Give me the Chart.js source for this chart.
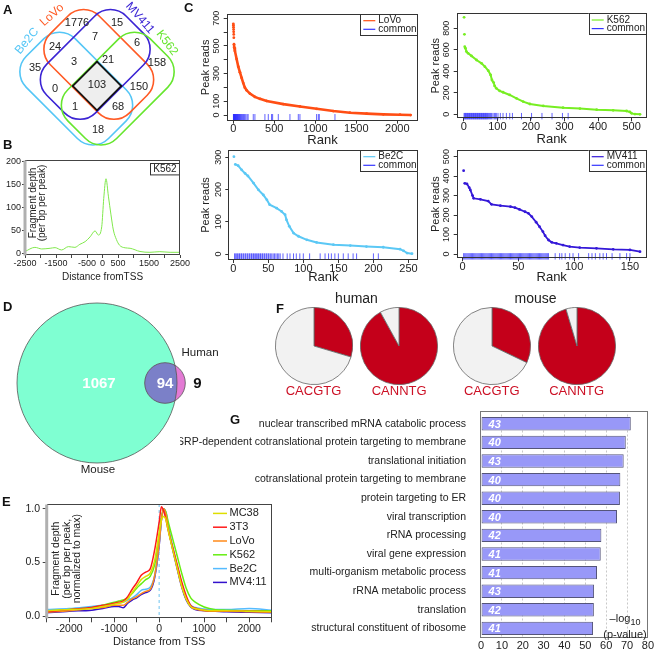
<!DOCTYPE html>
<html>
<head>
<meta charset="utf-8">
<script src="https://cdn.jsdelivr.net/npm/chart.js@4.4.1/dist/chart.umd.min.js"></script>
<style>
  body { margin: 0; background: #fff; }
  #fig { position: relative; width: 657px; height: 652px; overflow: hidden; font-family: "Liberation Sans", Arial, sans-serif; color: #222; }
  #fig canvas { position: absolute; }
  .tag { position: absolute; font-weight: bold; font-size: 13px; color: #111; }
  .txt { position: absolute; white-space: nowrap; text-align: center; }
  .motif { color: #cc1025; font-size: 13px; line-height: 15px; width: 80px; top: 383px; }
  .species { font-size: 14px; line-height: 16px; width: 80px; top: 290px; }
</style>
</head>
<body>
<div id="fig">
  <canvas id="vennA" width="200" height="150" style="left:0;top:0"></canvas>
  <canvas id="k562Tss" width="200" height="133" style="left:0;top:150px"></canvas>
  <canvas id="rankLoVo" width="230" height="148" style="left:200px;top:0"></canvas>
  <canvas id="rankK562" width="227" height="147" style="left:430px;top:0"></canvas>
  <canvas id="rankBe2C" width="230" height="140" style="left:200px;top:145px"></canvas>
  <canvas id="rankMV411" width="227" height="140" style="left:430px;top:145px"></canvas>
  <canvas id="vennD" width="230" height="185" style="left:0;top:295px"></canvas>
  <canvas id="tssProfiles" width="280" height="154" style="left:0;top:495px"></canvas>
  <canvas id="pieHumanE" width="78" height="78" style="left:274.5px;top:307px"></canvas>
  <canvas id="pieHumanN" width="78" height="78" style="left:360.2px;top:307px"></canvas>
  <canvas id="pieMouseE" width="78" height="78" style="left:452.8px;top:307px"></canvas>
  <canvas id="pieMouseN" width="78" height="78" style="left:537.7px;top:307px"></canvas>
  <canvas id="goBars" width="477" height="252" style="left:180px;top:400px"></canvas>

  <div class="tag" style="left:3px;top:2px">A</div>
  <div class="tag" style="left:3px;top:137px">B</div>
  <div class="tag" style="left:184px;top:0">C</div>
  <div class="tag" style="left:3px;top:299px">D</div>
  <div class="tag" style="left:2px;top:494px">E</div>
  <div class="tag" style="left:276px;top:301px">F</div>
  <div class="tag" style="left:230px;top:412px">G</div>

  <div class="txt species" style="left:316.5px">human</div>
  <div class="txt species" style="left:495.5px">mouse</div>
  <div class="txt motif" style="left:273.5px">CACGTG</div>
  <div class="txt motif" style="left:359.2px">CANNTG</div>
  <div class="txt motif" style="left:451.8px">CACGTG</div>
  <div class="txt motif" style="left:536.7px">CANNTG</div>
  <div class="txt" style="left:600px;top:612px;width:50px;font-size:11px;line-height:12px">–log<sub style="font-size:9px">10</sub><br>(p-value)</div>
</div>

<script>
// ---- A: peak overlap of the four cell lines ----
const vennSets = ['Be2C', 'LoVo', 'MV411', 'K562'];
const vennCounts = [35, 24, 1776, 7, 15, 6, 158, 3, 21, 0, 103, 150, 1, 68, 18];

// ---- B: K562 fragment depth around the TSS ----
const tssDist = [-2500, -2180, -1960, -1690, -1530, -1320, -1100, -890, -730, -560, -400, -240, -135, -25, 40, 113, 190, 274, 350, 450, 545, 730, 890, 1210, 1530, 1850, 2180, 2500];
const k562Depth = [4, 13, 9.5, 11, 12.4, 7.3, 14.6, 13, 19.7, 25.5, 36, 49, 40, 58, 120, 163, 125, 84, 51, 30, 18, 12, 11, 4, 2.2, 3.6, 2.2, 2.2];
const bXTicks = [-2500, -2000, -1500, -1000, -500, 0, 500, 1000, 1500, 2000, 2500];
const bTickLabels = [-2500, -1500, -500, 0, 500, 1500, 2500];
const bYTicks = [0, 50, 100, 150, 200];

// ---- C: peak reads by rank, with the common peaks as a rug ----
const lovoRank = [1, 2, 3, 4, 5, 6, 7, 9, 12, 20, 41, 61, 81, 102, 122, 142, 163, 203, 264, 325, 407, 610, 813, 1016, 1220, 1423, 1626, 1829, 2033, 2163];
const lovoReads = [660, 650, 636, 619, 602, 583, 560, 512, 488, 464, 405, 350, 310, 269, 231, 198, 179, 155, 131, 117, 102, 79, 62, 45, 29, 17, 10, 5, 2.4, 0];
const lovoCommon = [2, 4, 6, 9, 11, 14, 17, 20, 23, 27, 30, 34, 38, 42, 47, 52, 57, 63, 69, 75, 82, 90, 98, 107, 116, 126, 138, 152, 168, 181, 244, 264, 386, 427, 467, 480, 549, 691, 793, 813, 1016, 1037, 1049, 1240];
const lovoXTicks = [0, 500, 1000, 1500, 2000];
const lovoYTicks = [0, 100, 200, 300, 400, 500, 600, 700];

const k562Rank = [1, 2, 3, 5, 8, 13, 23, 38, 53, 63, 73, 80, 84, 89, 92, 97, 107, 117, 137, 157, 177, 197, 237, 296, 346, 396, 445, 485, 495, 500, 510, 525];
const k562Reads = [902, 744, 629, 614, 583, 567, 543, 505, 474, 443, 406, 366, 319, 295, 264, 242, 217, 205, 180, 149, 118, 96, 78, 62, 53, 43, 37, 31, 22, 9, 2, 0];
const k562Common = [1, 3, 5, 7, 9, 11, 13, 15, 17, 19, 21, 23, 25, 27, 29, 31, 33, 35, 37, 39, 41, 43, 45, 47, 49, 51, 53, 55, 57, 59, 61, 63, 65, 67, 69, 71, 74, 77, 80, 83, 87, 91, 94, 97, 102, 109, 117, 127, 137, 145, 172, 202, 233, 263, 294, 311];
const k562XTicks = [0, 100, 200, 300, 400, 500];
const k562YTicks = [0, 200, 400, 600, 800];

const be2cRank = [1, 3, 7, 12, 17, 21, 29, 36, 43, 48, 52, 62, 69, 74, 76, 80, 86, 93, 105, 119, 143, 167, 190, 214, 238, 243, 248, 255];
const be2cReads = [302, 278, 274, 261, 250, 242, 220, 199, 183, 168, 153, 142, 132, 122, 106, 86, 65, 55, 44, 36, 29, 26, 23, 21, 15, 10, 3, 1];
const be2cCommon = [2, 3, 5, 6, 8, 9, 11, 12, 14, 15, 17, 18, 20, 21, 23, 24, 26, 27, 29, 30, 32, 33, 35, 36, 38, 39, 41, 42, 44, 45, 47, 48, 50, 51, 53, 55, 57, 59, 61, 63, 65, 67, 71, 77, 81, 86, 90, 95, 100, 109, 124, 131, 136, 140, 145, 150, 157, 164, 171, 176, 200, 207];
const be2cXTicks = [0, 50, 100, 150, 200, 250];
const be2cYTicks = [0, 100, 200, 300];

const mv411Rank = [1, 2, 4, 6, 7, 9, 10, 16, 23, 26, 34, 43, 47, 51, 56, 59, 62, 66, 69, 72, 74, 77, 80, 84, 90, 96, 105, 120, 135, 150, 159];
const mv411Reads = [428, 363, 360, 341, 329, 300, 286, 281, 272, 255, 248, 243, 238, 229, 217, 209, 192, 163, 140, 115, 94, 72, 60, 55, 46, 38, 33, 29, 24, 21, 12];
const mv411Common = [1, 2, 3, 4, 5, 6, 7, 8, 9, 10, 11, 12, 13, 14, 15, 16, 17, 18, 19, 20, 21, 22, 23, 24, 25, 26, 27, 28, 29, 30, 31, 32, 33, 34, 35, 36, 37, 38, 39, 40, 41, 42, 43, 44, 45, 46, 47, 48, 49, 50, 51, 52, 53, 54, 55, 56, 57, 58, 59, 60, 61, 62, 63, 64, 65, 66, 67, 68, 69, 70, 71, 72, 73, 74, 75, 76, 77, 83, 87, 89, 92, 96, 99, 104, 113, 116, 119, 123, 126, 129, 134, 141, 147, 150];
const mv411XTicks = [0, 50, 100, 150];
const mv411YTicks = [0, 100, 200, 300, 400, 500];

// ---- D: human / mouse overlap ----
const orthoCounts = [1067, 94, 9];

// ---- E: normalised TSS profiles ----
const profDist = [-2500, -2000, -1500, -1250, -1000, -900, -800, -700, -600, -500, -400, -300, -200, -100, 0, 50, 100, 150, 200, 300, 400, 500, 600, 700, 800, 1000, 1250, 1500, 2000, 2500];
const mc38Prof = [0.05, 0.06, 0.07, 0.09, 0.11, 0.12, 0.13, 0.16, 0.22, 0.28, 0.34, 0.37, 0.40, 0.52, 0.78, 0.90, 0.93, 0.90, 0.80, 0.62, 0.45, 0.28, 0.16, 0.09, 0.07, 0.055, 0.05, 0.05, 0.045, 0.04];
const t3t3Prof = [0.04, 0.06, 0.08, 0.10, 0.12, 0.13, 0.14, 0.18, 0.25, 0.31, 0.38, 0.41, 0.44, 0.62, 0.88, 1.02, 0.98, 0.90, 0.80, 0.64, 0.48, 0.32, 0.19, 0.10, 0.075, 0.055, 0.05, 0.05, 0.045, 0.04];
const lovoProf = [0.035, 0.05, 0.07, 0.08, 0.10, 0.10, 0.10, 0.13, 0.16, 0.18, 0.21, 0.23, 0.25, 0.38, 0.68, 0.90, 1.00, 0.95, 0.82, 0.63, 0.45, 0.28, 0.16, 0.09, 0.065, 0.05, 0.045, 0.045, 0.04, 0.035];
const k562Prof = [0.05, 0.06, 0.08, 0.10, 0.13, 0.14, 0.15, 0.17, 0.21, 0.26, 0.30, 0.34, 0.37, 0.48, 0.75, 0.92, 1.00, 0.97, 0.88, 0.72, 0.56, 0.40, 0.26, 0.17, 0.13, 0.085, 0.06, 0.055, 0.05, 0.05];
const be2cProf = [0.06, 0.07, 0.09, 0.10, 0.12, 0.12, 0.13, 0.15, 0.17, 0.20, 0.24, 0.25, 0.27, 0.38, 0.68, 0.90, 0.98, 0.97, 0.85, 0.65, 0.47, 0.30, 0.17, 0.10, 0.08, 0.065, 0.06, 0.06, 0.07, 0.055];
const mv411Prof = [0.03, 0.045, 0.055, 0.07, 0.09, 0.09, 0.077, 0.12, 0.15, 0.17, 0.20, 0.22, 0.24, 0.36, 0.66, 0.90, 1.00, 0.96, 0.82, 0.62, 0.44, 0.27, 0.15, 0.085, 0.06, 0.05, 0.045, 0.04, 0.035, 0.03];
const eXTicks = [-2500, -2000, -1500, -1000, -500, 0, 500, 1000, 1500, 2000, 2500];
const eTickLabels = [-2000, -1000, 0, 1000, 2000];
const eYTicks = [0, 0.5, 1];

// ---- F: share of peaks with the E-box motif (%) ----
const humanCacgtg = [29.6, 70.4];
const humanCanntg = [92, 8];
const mouseCacgtg = [32.1, 67.9];
const mouseCanntg = [95.4, 4.6];

// ---- G: GO enrichment ----
const goTerms = ['nuclear transcribed mRNA catabolic process', 'SRP-dependent cotranslational protein targeting to membrane', 'translational initiation', 'cotranslational protein targeting to membrane', 'protein targeting to ER', 'viral transcription', 'rRNA processing', 'viral gene expression', 'multi-organism metabolic process', 'rRNA metabolic process', 'translation', 'structural constituent of ribosome'];
const goLogP = [71.8, 69.4, 68.4, 66.8, 66.6, 65.2, 57.7, 57.4, 55.6, 54.2, 54.1, 53.7];
const goGenes = [43, 40, 43, 40, 40, 40, 42, 41, 41, 43, 42, 41];
const goTicks = [0, 10, 20, 30, 40, 50, 60, 70, 80];

// layout of the two Venn diagrams (diagram units = px)
const vennCenter = [97, 86];
const vennBoxes = [[-51, 18, -71, 45.3], [-18, 51, -70, 42], [-42, 70, -51, 18], [-45.3, 71, -18, 51]]; // s0,s1,t0,t1 in the 45deg frame
const vennCorner = 22;
const vennColors = ['#55c6f6', '#ff5a24', '#3b24d4', '#66e62e'];
const vennNamePos = [[27, 41, -50], [52, 15, -42], [140, 18, 49], [167, 43, 53]];
const vennSpots = [[35, 68], [55, 47], [77, 23], [95, 37], [117, 23], [137, 43], [157, 63], [74, 62], [108, 60], [55, 89], [97, 85], [139, 87], [75, 107], [118, 107], [98, 130]];

const FONT = '"Liberation Sans", Arial, sans-serif';
const rugColor = 'rgba(45, 45, 255, 0.75)';

Chart.defaults.font.family = FONT;
Chart.defaults.color = '#222';
Chart.defaults.animation = false;
Chart.defaults.responsive = false;
Chart.defaults.events = [];
Chart.defaults.layout.autoPadding = false;
Chart.defaults.plugins.legend.display = false;
Chart.defaults.plugins.tooltip.enabled = false;

const fixedTicks = values => scale => { scale.ticks = values.map(v => ({ value: v })); };

// box round the plot area
const frame = {
    id: 'frame',
    afterDatasetsDraw(chart, args, o) {
        const ctx = chart.ctx, a = chart.chartArea;
        const l = Math.round(a.left) + 0.5, r = Math.round(a.right) - 0.5;
        const t = Math.round(a.top - (o.lift || 0)) + 0.5, b = Math.round(a.bottom) - 0.5;
        ctx.save();
        ctx.strokeStyle = o.color || '#333';
        ctx.lineWidth = 1;
        ctx.strokeRect(l, t, r - l, b - t);
        if (o.leftColor) {
            ctx.strokeStyle = o.leftColor;
            ctx.lineWidth = o.leftWidth;
            ctx.beginPath();
            ctx.moveTo(a.left, t);
            ctx.lineTo(a.left, b + 1);
            ctx.stroke();
        }
        ctx.restore();
    }
};

// R style y tick labels, turned 90 degrees
const rTicks = {
    id: 'rTicks',
    afterDraw(chart, args, o) {
        const ctx = chart.ctx, s = chart.scales.y, skip = o.skip || [];
        ctx.save();
        ctx.font = '9px ' + FONT;
        ctx.fillStyle = '#222';
        ctx.textAlign = 'center';
        ctx.textBaseline = 'middle';
        s.ticks.forEach(t => {
            if (skip.includes(t.value)) return;
            ctx.save();
            ctx.translate(chart.chartArea.left - 10, s.getPixelForValue(t.value));
            ctx.rotate(-Math.PI / 2);
            ctx.fillText(String(t.value), 0, 0);
            ctx.restore();
        });
        ctx.restore();
    }
};

// legend drawn from the datasets' labels and colours
const keyBox = {
    id: 'keyBox',
    afterDraw(chart, args, o) {
        const ctx = chart.ctx, a = chart.chartArea;
        const x0 = o.left !== undefined ? a.left + o.left : a.right - o.right - o.w;
        const y0 = a.top + o.top;
        ctx.save();
        if (o.box) {
            ctx.fillStyle = '#fff';
            ctx.fillRect(x0, y0, o.w, o.h);
            ctx.strokeStyle = '#333';
            ctx.lineWidth = 1;
            ctx.strokeRect(Math.round(x0) + 0.5, Math.round(y0) + 0.5, o.w, o.h);
        }
        ctx.font = o.font + 'px ' + FONT;
        ctx.textBaseline = 'middle';
        chart.data.datasets.filter(d => d.label).forEach((d, i) => {
            const y = y0 + o.y + i * o.dy;
            ctx.strokeStyle = d.borderColor;
            ctx.lineWidth = o.lw;
            ctx.beginPath();
            ctx.moveTo(x0 + o.lx, y);
            ctx.lineTo(x0 + o.lx + o.len, y);
            ctx.stroke();
            ctx.fillStyle = '#222';
            ctx.fillText(d.label, x0 + o.lx + o.len + o.gap, y);
        });
        ctx.restore();
    }
};

// y title sitting inside the plot, dashed TSS line and the sample tag
const sideTitle = {
    id: 'sideTitle',
    beforeDatasetsDraw(chart, args, o) {
        const ctx = chart.ctx, a = chart.chartArea;
        ctx.save();
        if (o.tss !== undefined) {
            const x = chart.scales.x.getPixelForValue(o.tss);
            ctx.strokeStyle = '#9fd8f5';
            ctx.lineWidth = 1.5;
            ctx.setLineDash([3, 3]);
            ctx.beginPath();
            ctx.moveTo(x, a.top);
            ctx.lineTo(x, a.bottom);
            ctx.stroke();
            ctx.setLineDash([]);
        }
        ctx.font = o.size + 'px ' + FONT;
        ctx.fillStyle = '#222';
        ctx.textAlign = 'center';
        ctx.textBaseline = 'middle';
        o.lines.forEach((t, i) => {
            ctx.save();
            ctx.translate(a.left + o.x + i * o.dx, a.top + o.y);
            ctx.rotate(-Math.PI / 2);
            ctx.fillText(t, 0, 0);
            ctx.restore();
        });
        if (o.tag) {
            const x0 = a.right - o.tag.w, y0 = a.top + o.tag.top;
            ctx.strokeStyle = '#333';
            ctx.lineWidth = 1;
            ctx.strokeRect(Math.round(x0) + 0.5, Math.round(y0) + 0.5, o.tag.w - 1, o.tag.h);
            ctx.font = '10px ' + FONT;
            ctx.fillText(o.tag.text, x0 + o.tag.w / 2, y0 + o.tag.h / 2 + 0.5);
        }
        ctx.restore();
    }
};

// rounded bar of the four-way Venn, in the 45 degree frame
function vennPath(ctx, cx, cy, b) {
    const x = b[0], y = b[2], w = b[1] - b[0], h = b[3] - b[2];
    const r = vennCorner;
    ctx.save();
    ctx.translate(cx, cy);
    ctx.rotate(-Math.PI / 4);
    ctx.beginPath();
    ctx.moveTo(x + r, y);
    ctx.arcTo(x + w, y, x + w, y + h, r);
    ctx.arcTo(x + w, y + h, x, y + h, r);
    ctx.arcTo(x, y + h, x, y, r);
    ctx.arcTo(x, y, x + w, y, r);
    ctx.closePath();
    ctx.restore();
}

const venn4 = {
    id: 'venn4',
    beforeDatasetsDraw(chart) {
        const ctx = chart.ctx;
        const cx = chart.scales.x.getPixelForValue(vennCenter[0]);
        const cy = chart.scales.y.getPixelForValue(vennCenter[1]);
        // shared core
        ctx.save();
        vennBoxes.forEach(b => { vennPath(ctx, cx, cy, b); ctx.clip(); });
        ctx.fillStyle = '#eeeeee';
        ctx.fillRect(0, 0, chart.width, chart.height);
        ctx.restore();
        ctx.save();
        ctx.lineWidth = 1.6;
        vennBoxes.forEach((b, i) => {
            vennPath(ctx, cx, cy, b);
            ctx.strokeStyle = vennColors[i];
            ctx.stroke();
        });
        ctx.restore();
        ctx.save();
        vennBoxes.forEach(b => { vennPath(ctx, cx, cy, b); ctx.clip(); });
        ctx.lineWidth = 3.4;
        ctx.strokeStyle = '#111';
        vennBoxes.forEach(b => { vennPath(ctx, cx, cy, b); ctx.stroke(); });
        ctx.restore();
        // set names
        ctx.save();
        ctx.font = '12px ' + FONT;
        ctx.textAlign = 'center';
        ctx.textBaseline = 'middle';
        vennSets.forEach((name, i) => {
            const p = vennNamePos[i];
            ctx.save();
            ctx.translate(chart.scales.x.getPixelForValue(p[0]), chart.scales.y.getPixelForValue(p[1]));
            ctx.rotate(p[2] * Math.PI / 180);
            ctx.fillStyle = vennColors[i];
            ctx.fillText(name, 0, 0);
            ctx.restore();
        });
        ctx.restore();
    },
    afterDatasetsDraw(chart) {
        const ctx = chart.ctx;
        ctx.save();
        ctx.font = '11px ' + FONT;
        ctx.fillStyle = '#222';
        ctx.textAlign = 'center';
        ctx.textBaseline = 'middle';
        chart.getDatasetMeta(0).data.forEach((pt, i) => ctx.fillText(String(vennCounts[i]), pt.x, pt.y));
        ctx.restore();
    }
};

// overlap of the two circles and their counts
const vennPair = {
    id: 'vennPair',
    afterDatasetsDraw(chart) {
        const ctx = chart.ctx;
        const [m, h] = chart.getDatasetMeta(0).data;
        const rm = m.options.radius, rh = h.options.radius;
        ctx.save();
        ctx.beginPath();
        ctx.arc(m.x, m.y, rm, 0, Math.PI * 2);
        ctx.clip();
        ctx.beginPath();
        ctx.arc(h.x, h.y, rh, 0, Math.PI * 2);
        ctx.fillStyle = '#7b80c8';
        ctx.fill();
        ctx.restore();
        ctx.save();
        ctx.strokeStyle = '#555';
        ctx.lineWidth = 0.8;
        [[m, rm], [h, rh]].forEach(([p, r]) => {
            ctx.beginPath();
            ctx.arc(p.x, p.y, r, 0, Math.PI * 2);
            ctx.stroke();
        });
        ctx.textAlign = 'center';
        ctx.textBaseline = 'middle';
        ctx.font = 'bold 15px ' + FONT;
        ctx.fillStyle = '#fff';
        ctx.fillText(String(orthoCounts[0]), m.x + 2, m.y + 1);
        ctx.fillText(String(orthoCounts[1]), h.x, h.y + 1);
        ctx.fillStyle = '#111';
        ctx.fillText(String(orthoCounts[2]), h.x + rh + 12, h.y + 1);
        ctx.font = '11.5px ' + FONT;
        ctx.fillStyle = '#222';
        ctx.fillText('Human', h.x + 35, h.y - 30);
        ctx.fillText('Mouse', m.x + 1, m.y + rm + 7);
        ctx.restore();
    }
};

// gene counts written inside the GO bars
const barNums = {
    id: 'barNums',
    afterDatasetsDraw(chart) {
        const ctx = chart.ctx;
        ctx.save();
        ctx.font = 'italic bold 11px ' + FONT;
        ctx.fillStyle = '#fff';
        ctx.textBaseline = 'middle';
        chart.getDatasetMeta(0).data.forEach((bar, i) => ctx.fillText(String(goGenes[i]), bar.base + 7, bar.y + 1));
        ctx.restore();
    }
};

function renderVennA() {
    new Chart(document.getElementById('vennA'), {
        type: 'scatter',
        data: { datasets: [{ data: vennSpots.map(p => ({ x: p[0], y: p[1] })), pointRadius: 0 }] },
        options: {
            layout: { padding: 0 },
            scales: {
                x: { display: false, min: 0, max: 200 },
                y: { display: false, min: 0, max: 150, reverse: true }
            }
        },
        plugins: [venn4]
    });
}

function renderTssChart(id, cfg) {
    new Chart(document.getElementById(id), {
        type: 'line',
        data: {
            datasets: cfg.series.map(s => ({
                label: s.label,
                data: cfg.dist.map((d, i) => ({ x: d, y: s.data[i] })),
                borderColor: s.color,
                borderWidth: cfg.lw,
                pointRadius: 0,
                cubicInterpolationMode: 'monotone',
                fill: false
            }))
        },
        options: {
            layout: { padding: { top: cfg.top, right: cfg.right, left: 0, bottom: 0 } },
            scales: {
                x: {
                    type: 'linear', min: -2500, max: 2500,
                    afterBuildTicks: fixedTicks(cfg.xTicks),
                    ticks: { autoSkip: false, maxRotation: 0, padding: cfg.xPad, font: { size: cfg.tickSize, lineHeight: 1 },
                             callback: v => cfg.xLabels.includes(v) ? String(v) : '' },
                    grid: { drawOnChartArea: false, tickLength: cfg.tl, color: '#444' },
                    border: { display: false },
                    title: { display: true, text: cfg.xTitle, font: { size: cfg.titleSize }, padding: 0 },
                    afterFit: s => { s.height = cfg.axisH; }
                },
                y: {
                    min: cfg.yMin, max: cfg.yMax,
                    afterBuildTicks: fixedTicks(cfg.yTicks),
                    ticks: { padding: cfg.yPad, font: { size: cfg.tickSize }, callback: cfg.yFmt },
                    grid: { drawOnChartArea: false, tickLength: cfg.tl, color: '#444' },
                    border: { display: false },
                    afterFit: s => { s.width = cfg.left; }
                }
            },
            plugins: {
                frame: { color: '#444', leftColor: '#b0b0b0', leftWidth: 3 },
                sideTitle: cfg.side,
                keyBox: cfg.key
            }
        },
        plugins: cfg.key ? [frame, sideTitle, keyBox] : [frame, sideTitle]
    });
}

function renderRankChart(id, cfg) {
    new Chart(document.getElementById(id), {
        type: 'scatter',
        data: {
            datasets: [
                {
                    label: cfg.name,
                    data: cfg.rank.map((r, i) => ({ x: r, y: cfg.reads[i] })),
                    borderColor: cfg.color,
                    backgroundColor: cfg.color,
                    showLine: true,
                    borderWidth: cfg.lw,
                    // the top few peaks stand apart as single dots
                    segment: { borderColor: c => c.p0DataIndex < cfg.solo ? 'rgba(0,0,0,0)' : undefined },
                    pointRadius: 1.4,
                    pointBorderWidth: 0,
                    pointBackgroundColor: cfg.color
                },
                {
                    label: 'common',
                    data: cfg.common.map(r => ({ x: r, y: cfg.rugAt })),
                    borderColor: '#3434ff',
                    showLine: false,
                    pointStyle: 'line',
                    pointRotation: 90,
                    pointRadius: 3.2,
                    pointBorderWidth: 1,
                    pointBorderColor: rugColor,
                    clip: false
                }
            ]
        },
        options: {
            layout: { padding: { top: cfg.top, right: cfg.right, left: 0, bottom: 0 } },
            scales: {
                x: {
                    type: 'linear', min: cfg.xMin, max: cfg.xMax,
                    afterBuildTicks: fixedTicks(cfg.xTicks),
                    ticks: { autoSkip: false, maxRotation: 0, padding: 0, font: { size: 11, lineHeight: 1 }, callback: v => String(v) },
                    grid: { drawOnChartArea: false, tickLength: 3, color: '#333' },
                    border: { display: false },
                    title: { display: true, text: 'Rank', font: { size: 13 }, padding: 0 },
                    afterFit: s => { s.height = cfg.axisH; }
                },
                y: {
                    min: cfg.yMin, max: cfg.yMax,
                    afterBuildTicks: fixedTicks(cfg.yTicks),
                    ticks: { display: false },
                    grid: { drawOnChartArea: false, tickLength: 3, color: '#333' },
                    border: { display: false },
                    title: { display: true, text: 'Peak reads', font: { size: 11, lineHeight: 1 }, padding: 0 },
                    afterFit: s => { s.width = cfg.left; }
                }
            },
            plugins: {
                frame: { color: '#333' },
                rTicks: { skip: cfg.skip },
                keyBox: { right: 1, w: 57, h: 21, top: 0, y: 6.7, dy: 8.6, lx: 3, len: 12, gap: 3, font: 10, box: true, lw: 1.2 }
            }
        },
        plugins: [frame, rTicks, keyBox]
    });
}

function renderVennD() {
    new Chart(document.getElementById('vennD'), {
        type: 'bubble',
        data: {
            datasets: [{
                data: [{ x: 97, y: 88, r: 80 }, { x: 165, y: 88, r: 20.3 }],
                backgroundColor: ['#7fffd2', '#e37ad4'],
                borderWidth: 0,
                clip: false
            }]
        },
        options: {
            layout: { padding: 0, autoPadding: false },
            scales: {
                x: { display: false, min: 0, max: 230 },
                y: { display: false, min: 0, max: 185, reverse: true }
            }
        },
        plugins: [vennPair]
    });
}

function renderMotifPie(id, values) {
    new Chart(document.getElementById(id), {
        type: 'pie',
        data: {
            labels: ['motif', 'no motif'],
            datasets: [{ data: values, backgroundColor: ['#c4001a', '#f2f2f2'], borderColor: '#666', borderWidth: 0.8 }]
        },
        options: { layout: { padding: 0 } }
    });
}

function renderGoBars() {
    new Chart(document.getElementById('goBars'), {
        type: 'bar',
        data: {
            labels: goTerms,
            datasets: [{
                data: goLogP,
                backgroundColor: '#9898f8',
                borderColor: '#55557a',
                borderWidth: 1,
                borderSkipped: false,
                barPercentage: 0.72,
                categoryPercentage: 1
            }]
        },
        options: {
            indexAxis: 'y',
            layout: { padding: { top: 14.5, right: 7, left: 0, bottom: 0 } },
            scales: {
                x: {
                    min: -0.5, max: 80,
                    afterBuildTicks: fixedTicks(goTicks),
                    ticks: { autoSkip: false, maxRotation: 0, padding: 3, font: { size: 11, lineHeight: 1 } },
                    grid: { drawTicks: false, color: c => (c.tick && c.tick.value > 0 && c.tick.value < 80) ? '#c8c8c8' : 'rgba(0,0,0,0)' },
                    border: { display: false, dash: [2, 2] },
                    afterFit: s => { s.height = 14.3; }
                },
                y: {
                    ticks: { autoSkip: false, padding: 6, font: { size: 10.5 } },
                    grid: { display: false },
                    border: { display: false },
                    afterFit: s => { s.width = 300; }
                }
            },
            plugins: { frame: { color: '#777', lift: 4 } }
        },
        plugins: [frame, barNums]
    });
}

document.addEventListener('DOMContentLoaded', () => {
    renderVennA();

    renderTssChart('k562Tss', {
        dist: tssDist,
        series: [{ label: 'K562', data: k562Depth, color: '#80e84c' }],
        lw: 1, top: 10, right: 20, left: 25, axisH: 28,
        xPad: 1.5, tl: 3, tickSize: 9, titleSize: 10, xTicks: bXTicks, xLabels: bTickLabels, xTitle: 'Distance fromTSS',
        yMin: -3.7, yMax: 204, yTicks: bYTicks, yPad: 1, yFmt: v => String(v),
        side: { lines: ['Fragment depth', '(per bp per peak)'], x: 8, dx: 9, y: 43, size: 10, tag: { text: 'K562', w: 30, h: 11.4, top: 3.3 } }
    });

    renderRankChart('rankLoVo', { name: 'LoVo', color: '#ff4e14', lw: 2.6, solo: 7, rank: lovoRank, reads: lovoReads, common: lovoCommon, rugAt: -16,
        top: 14, right: 11.7, left: 26.7, axisH: 27.3, xMin: -80, xMax: 2256, xTicks: lovoXTicks, yMin: -41, yMax: 731, yTicks: lovoYTicks, skip: [200, 400, 600] });
    renderRankChart('rankK562', { name: 'K562', color: '#77ee22', lw: 2, solo: 2, rank: k562Rank, reads: k562Reads, common: k562Common, rugAt: -17,
        top: 13.3, right: 10.3, left: 26.7, axisH: 28.7, xMin: -21, xMax: 545, xTicks: k562XTicks, yMin: -37, yMax: 939, yTicks: k562YTicks });
    renderRankChart('rankBe2C', { name: 'Be2C', color: '#5bc8f5', lw: 2, solo: 1, rank: be2cRank, reads: be2cReads, common: be2cCommon, rugAt: -8,
        top: 5, right: 11.7, left: 28.3, axisH: 25, xMin: -7, xMax: 264, xTicks: be2cXTicks, yMin: -18.6, yMax: 322.6, yTicks: be2cYTicks });
    renderRankChart('rankMV411', { name: 'MV411', color: '#3418d8', lw: 1.8, solo: 1, rank: mv411Rank, reads: mv411Reads, common: mv411Common, rugAt: -12,
        top: 5, right: 10.3, left: 26.7, axisH: 26.7, xMin: -5.2, xMax: 165, xTicks: mv411XTicks, yMin: -22, yMax: 534, yTicks: mv411YTicks });

    renderVennD();

    renderTssChart('tssProfiles', {
        dist: profDist,
        series: [
            { label: 'MC38', data: mc38Prof, color: '#dede00' },
            { label: '3T3', data: t3t3Prof, color: '#ff1a1a' },
            { label: 'LoVo', data: lovoProf, color: '#ff8a1a' },
            { label: 'K562', data: k562Prof, color: '#66ee11' },
            { label: 'Be2C', data: be2cProf, color: '#55bbff' },
            { label: 'MV4:11', data: mv411Prof, color: '#3311cc' }
        ],
        lw: 1.5, top: 7.3, right: 8.3, left: 46.7, axisH: 30.7,
        xPad: 1.75, tl: 4, tickSize: 10.5, titleSize: 11, xTicks: eXTicks, xLabels: eTickLabels, xTitle: 'Distance from TSS',
        yMin: -0.021, yMax: 1.046, yTicks: eYTicks, yPad: 2.7, yFmt: v => v.toFixed(1),
        side: { lines: ['Fragment depth', '(per bp per peak,', 'normalized to max)'], x: 9.3, dx: 10.8, y: 54.7, size: 10.5, tss: 0 },
        key: { left: 166.3, top: 0, y: 9.4, dy: 13.8, lx: 0, len: 14, gap: 2.5, font: 11, box: false, lw: 1.5 }
    });

    renderMotifPie('pieHumanE', humanCacgtg);
    renderMotifPie('pieHumanN', humanCanntg);
    renderMotifPie('pieMouseE', mouseCacgtg);
    renderMotifPie('pieMouseN', mouseCanntg);

    renderGoBars();
});
</script>
</body>
</html>
